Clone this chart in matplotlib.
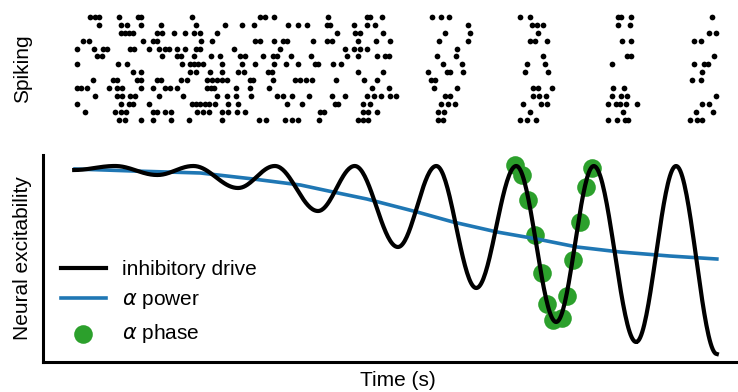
import matplotlib
matplotlib.use("Agg")
import matplotlib.pyplot as plt
import numpy as np

plt.rcParams["font.family"] = ["Liberation Sans", "DejaVu Sans"]
plt.rcParams["font.size"] = 15

# Spike times (ms) for each unit, top row first.
spike_rows = [
    [20, 26, 31, 56, 80, 84, 148, 233, 239, 250, 318, 366, 370, 385, 448, 459, 469, 558, 570, 680, 684, 696, 798],
    [31, 58, 66, 84, 109, 153, 189, 210, 225, 268, 280, 291, 316, 320, 350, 366, 376, 493, 573, 579, 586, 680, 695],
    [59, 64, 69, 74, 104, 110, 125, 139, 150, 158, 179, 329, 351, 358, 386, 464, 495, 580, 794, 803],
    [11, 18, 86, 99, 104, 159, 173, 226, 233, 250, 261, 266, 299, 316, 323, 355, 378, 395, 456, 493, 570, 576,
     591, 685, 696, 776, 784],
    [4, 25, 36, 41, 70, 75, 93, 106, 114, 119, 129, 139, 153, 158, 200, 258, 339, 350, 358, 366, 479],
    [29, 35, 110, 128, 133, 150, 171, 183, 208, 214, 236, 249, 254, 271, 296, 341, 355, 379, 389, 394, 454, 478,
     586, 691, 696, 800],
    [4, 55, 66, 135, 145, 150, 155, 161, 185, 210, 226, 250, 265, 280, 301, 305, 324, 334, 461, 485, 566, 589,
     673, 775, 788, 793],
    [73, 84, 145, 153, 170, 185, 205, 213, 243, 248, 355, 386, 443, 466, 470, 486, 564, 593, 785],
    [23, 49, 54, 78, 83, 104, 108, 134, 141, 166, 173, 179, 185, 191, 220, 224, 249, 276, 283, 290, 298, 328,
     363, 379, 446, 451, 773, 784],
    [3, 9, 16, 44, 54, 60, 84, 98, 113, 120, 129, 166, 171, 175, 203, 220, 244, 373, 394, 450, 479, 574, 580,
     598, 674, 688],
    [26, 54, 60, 70, 76, 106, 136, 179, 191, 203, 221, 254, 261, 273, 294, 323, 339, 366, 375, 384, 395, 403,
     464, 470, 574, 581, 590, 673, 684, 691, 803],
    [4, 59, 68, 74, 93, 148, 153, 158, 164, 169, 176, 193, 205, 266, 285, 326, 330, 361, 370, 459, 468, 476,
     561, 584, 591, 668, 678, 683, 690, 704, 786, 794],
    [13, 51, 58, 65, 99, 104, 113, 121, 154, 161, 169, 185, 193, 204, 214, 308, 313, 361, 368, 379, 455, 463,
     570, 686, 778, 799],
    [56, 63, 84, 98, 121, 143, 185, 231, 240, 264, 273, 280, 306, 355, 361, 368, 455, 461, 558, 566, 578, 668,
     679, 689, 693, 770, 779, 785],
]

# Inhibitory drive: troughs and peaks of each alpha cycle (time ms, excitability a.u.)
trough_t = [0, 104, 205, 305, 405, 503, 603, 703, 804]
trough_v = [1.92, 1.87, 1.74, 1.51, 1.15, 0.74, 0.40, 0.20, 0.08]
peak_t = [51, 149, 251, 351, 453, 553, 650, 753]
peak_v = [1.96, 1.96, 1.96, 1.96, 1.96, 1.96, 1.96, 1.96]

# Alpha power envelope
power_t = [1, 74, 158, 224, 283, 324, 366, 429, 474, 529, 579, 629, 683, 745, 804]
power_v = [1.93, 1.91, 1.89, 1.83, 1.77, 1.70, 1.63, 1.50, 1.40, 1.30, 1.23, 1.15, 1.10, 1.06, 1.03]

# Alpha phase samples over one cycle
phase_t = [552, 560, 568, 576, 585, 592, 599, 610, 616, 624, 633, 640, 648]
phase_v = [1.97, 1.87, 1.62, 1.27, 0.89, 0.58, 0.42, 0.44, 0.66, 1.02, 1.40, 1.75, 1.94]


def drive_curve(t_ext, v_ext, n=40):
    """Smooth half-cosine segments joining successive extrema."""
    ts, vs = [], []
    for (t0, v0), (t1, v1) in zip(zip(t_ext[:-1], v_ext[:-1]), zip(t_ext[1:], v_ext[1:])):
        s = np.linspace(0, 1, n)
        ts.append(t0 + (t1 - t0) * s)
        vs.append(v0 + (v1 - v0) * (1 - np.cos(np.pi * s)) / 2)
    return np.concatenate(ts), np.concatenate(vs)


ext_t, ext_v = [], []
for i in range(len(trough_t)):
    ext_t.append(trough_t[i])
    ext_v.append(trough_v[i])
    if i < len(peak_t):
        ext_t.append(peak_t[i])
        ext_v.append(peak_v[i])

fig = plt.figure(figsize=(7.38, 3.92), dpi=100)
x0, w = 0.0583, 0.9607
ax_sp = fig.add_axes([x0, 0.6837, w, 0.2837])
ax = fig.add_axes([x0, 0.0765, w, 0.5281])
xlim = (-39, 848)

for row, times in enumerate(spike_rows):
    ax_sp.scatter(times, [row] * len(times), s=17, c="black", linewidths=0)
ax_sp.set_xlim(*xlim)
ax_sp.set_ylim(13.5, -0.5)
for side in ax_sp.spines.values():
    side.set_visible(False)
ax_sp.set_xticks([])
ax_sp.set_yticks([])
ax_sp.set_ylabel("Spiking")
ax_sp.yaxis.set_label_coords(-0.015, 0.5)

t, v = drive_curve(ext_t, ext_v)
ax.plot(t, v, color="black", linewidth=3, label="inhibitory drive", zorder=3)
ax.plot(power_t, power_v, color="#1f77b4", linewidth=2.6, label=r"$\alpha$ power", zorder=2)
ax.scatter(phase_t, phase_v, s=180, color="#2ca02c", linewidths=0, label=r"$\alpha$ phase", zorder=1)

ax.set_xlim(*xlim)
ax.set_ylim(0, 2.07)
ax.spines["top"].set_visible(False)
ax.spines["right"].set_visible(False)
ax.spines["left"].set_linewidth(2.2)
ax.spines["bottom"].set_linewidth(2.2)
ax.set_xticks([])
ax.set_yticks([])
ax.set_ylabel("Neural excitability")
ax.yaxis.set_label_coords(-0.015, 0.5)
ax.set_xlabel("Time (s)")
ax.xaxis.set_label_coords(0.5, -0.042)

ax.legend(loc="upper left", bbox_to_anchor=(0.082, 0.337), bbox_transform=fig.transFigure,
          frameon=False, handlelength=2.2, handletextpad=0.75, labelspacing=0.53,
          borderpad=0, borderaxespad=0)

fig.savefig("out.png", dpi=100)
plt.close(fig)
